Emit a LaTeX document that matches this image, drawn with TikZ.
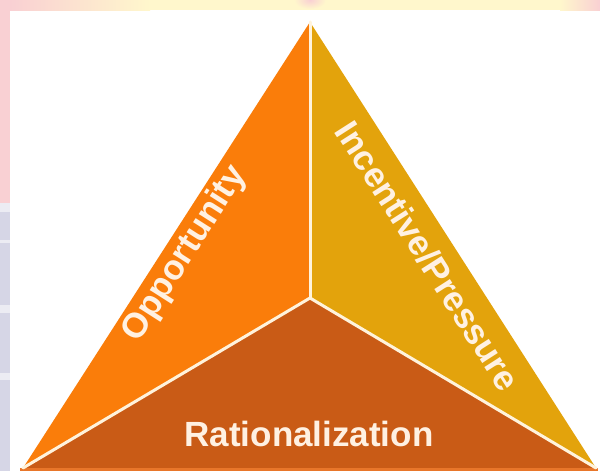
\documentclass[tikz,border=0pt]{standalone}
\usepackage{fontspec}
\setmainfont{Liberation Sans}
\definecolor{oppcol}{HTML}{FA7D0A}
\definecolor{inccol}{HTML}{E3A30C}
\definecolor{ratcol}{HTML}{C95B16}
\definecolor{sepcol}{HTML}{FFF3DC}
\definecolor{lblcol}{HTML}{FFF1E2}
\definecolor{pinkband}{HTML}{F9D0D3}
\definecolor{lavband}{HTML}{D6D6E6}
\definecolor{lavlight}{HTML}{ECECF3}
\definecolor{yelband}{HTML}{FFF7CC}
\definecolor{bottomline}{HTML}{E8762A}
\begin{document}
\begin{tikzpicture}[x=1pt,y=-1pt,
  sepline/.style={draw=sepcol,line width=3pt,line join=round,line cap=round},
  lbltext/.style={text=lblcol,inner sep=0pt,font=\bfseries\fontsize{35}{35}\selectfont}]
\useasboundingbox (0,0) rectangle (600,471);
\fill[white] (0,0) rectangle (600,471);
% frame bands
\fill[pinkband] (0,0) rectangle (10,203);
\fill[lavband] (0,203) rectangle (10,471);
\fill[lavlight] (0,203) rectangle (10,212);
\fill[lavlight] (0,240) rectangle (10,243);
\fill[lavlight] (0,305) rectangle (10,313);
\fill[lavlight] (0,373) rectangle (10,380);
\shade[left color=pinkband,right color=yelband] (10,0) rectangle (150,10);
\fill[yelband] (150,0) rectangle (560,10);
\shade[inner color=pinkband,outer color=yelband] (310,0) ellipse (16 and 9);
\shade[left color=yelband,right color=pinkband] (560,0) rectangle (600,10);
% triangle
\coordinate (A) at (310,22);
\coordinate (L) at (23,468);
\coordinate (R) at (596,468);
\coordinate (C) at (310,298);
\fill[oppcol] (L) -- (A) -- (C) -- cycle;
\fill[inccol] (A) -- (R) -- (C) -- cycle;
\fill[ratcol] (L) -- (C) -- (R) -- cycle;
\fill[bottomline] (20,468) rectangle (598,471);
\draw[sepline] (A) -- (C);
\draw[sepline] (L) -- (C) -- (R);
% labels
\node[lbltext,rotate=57.4] (opp) at (185,254) {Opportunity};
\node[lbltext,rotate=-57.4] (inc) at (428,256) {Incentive/Pressure};
\node[lbltext,anchor=base] (rat) at (309,446) {Rationalization};
\end{tikzpicture}
\end{document}
